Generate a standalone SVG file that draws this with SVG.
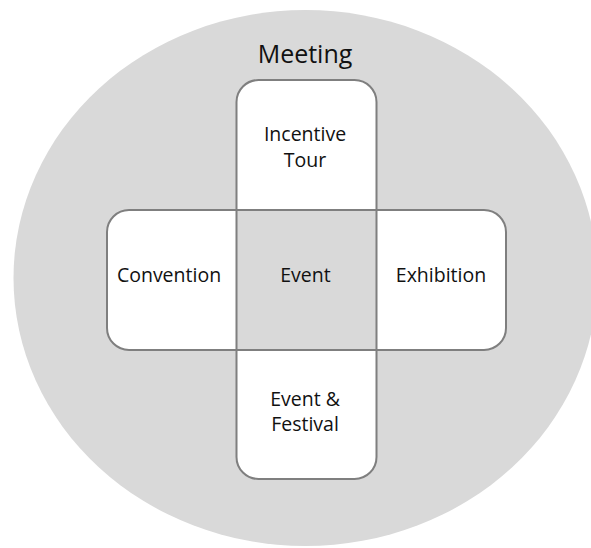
<svg xmlns="http://www.w3.org/2000/svg" width="591" height="548" viewBox="0 0 591 548">
<style>
.lbl{font-family:"Open Sans","Noto Sans","Liberation Sans",sans-serif;fill:#111;text-anchor:middle;font-size:19.5px}
.outline{fill:none;stroke:#7f7f7f;stroke-width:2}
</style>
<rect width="591" height="548" fill="#fff"/>
<g id="meeting">
<ellipse cx="305.5" cy="278" rx="292" ry="268" fill="#d9d9d9"/>
<text class="lbl" x="305" y="63" style="font-size:25px">Meeting</text>
</g>
<g id="fills">
<rect x="236.5" y="80" width="140" height="399" rx="22" fill="#fff"/>
<rect x="107" y="210" width="399" height="140" rx="22" fill="#fff"/>
</g>
<g id="event">
<rect x="236.5" y="210" width="140" height="140" fill="#d9d9d9"/>
<text class="lbl" x="305.5" y="281.5">Event</text>
</g>
<g id="outlines">
<rect class="outline" x="236.5" y="80" width="140" height="399" rx="22"/>
<rect class="outline" x="107" y="210" width="399" height="140" rx="22"/>
</g>
<g id="incentive-tour">
<text class="lbl" x="305" y="141">Incentive</text>
<text class="lbl" x="305" y="166.5">Tour</text>
</g>
<g id="convention">
<text class="lbl" x="169" y="281.5">Convention</text>
</g>
<g id="exhibition">
<text class="lbl" x="441" y="281.5">Exhibition</text>
</g>
<g id="event-festival">
<text class="lbl" x="305" y="406">Event &amp;</text>
<text class="lbl" x="305" y="430.5">Festival</text>
</g>
<g id="connectors"></g>
</svg>
